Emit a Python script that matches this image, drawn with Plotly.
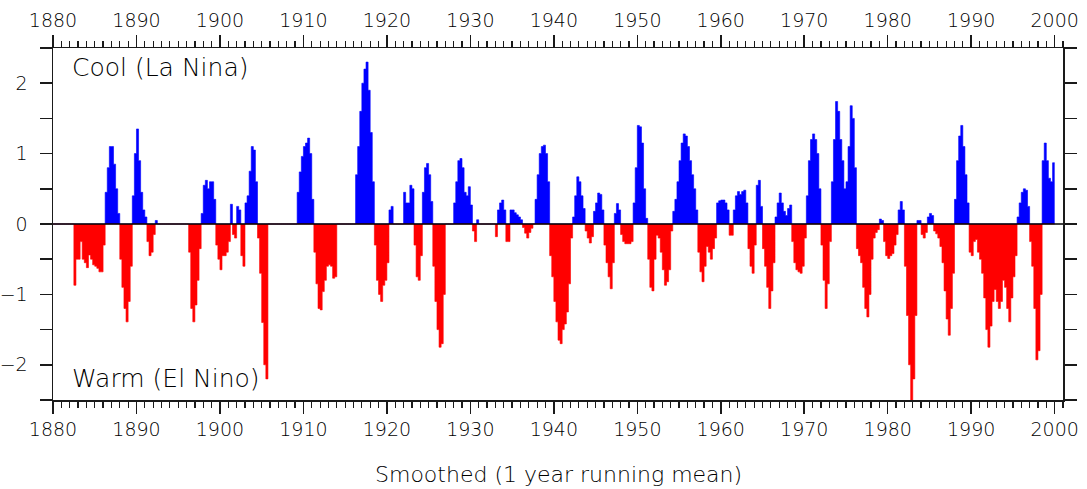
import numpy as np
import plotly.graph_objects as go

# Smoothed index, quarterly values (Q1..Q4 of each year)
soi_1880s = [0, 0, 0, 0,  0, 0, 0, 0,  0, 0, -0.87, -0.5,  -0.5, -0.25, -0.5, -0.55,
             -0.62, -0.44, -0.5, -0.58,  -0.6, -0.63, -0.68, -0.68,  -0.3, 0.45, 0.8, 1.1,
             1.1, 0.85, 0.5, 0.15,  -0.5, -0.9, -1.2, -1.39,  -1.1, -0.6, 0.4, 1.0]
soi_1890s = [1.35, 0.9, 0.45, 0.2,  0.1, -0.25, -0.45, -0.4,  -0.15, 0.05, 0, 0,  0, 0, 0, 0,
             0, 0, 0, 0,  0, 0, 0, 0,  0, -0.4, -1.2, -1.39,  -1.15, -0.8, -0.35, 0.15,
             0.55, 0.62, 0.5, 0.6,  0.6, 0.35, -0.3, -0.5]
soi_1900s = [-0.65, -0.45, -0.45, -0.4,  -0.25, 0.28, -0.15, -0.2,  0.25, 0.2, -0.45, -0.6,
             0.3, 0.4, 0.75, 1.1,  1.05, 0.6, -0.2, -0.7,  -1.4, -2.0, -2.2, 0,
             0, 0, 0, 0,  0, 0, 0, 0,  0, 0, 0, 0,  0, 0.45, 0.74, 0.96]
soi_1910s = [1.1, 1.15, 1.22, 1.0,  0.35, -0.4, -0.85, -1.2,  -1.22, -0.96, -0.8, -0.6,
             -0.58, -0.6, -0.77, -0.75,  0, 0, 0, 0,  0, 0, 0, 0,  0, 0.7, 1.1, 1.6,
             2.0, 2.2, 2.3, 1.9,  1.3, 0.6, -0.3, -0.8,  -1.0, -1.1, -0.87, -0.8]
soi_1920s = [-0.55, 0.2, 0.25, 0,  0, 0, 0, 0,  0.45, 0.3, 0.3, 0.55,  0.5, -0.3, -0.75, -0.8,
             -0.45, 0.45, 0.8, 0.86,  0.7, 0.32, -0.6, -1.1,  -1.5, -1.75, -1.7, -1.0,
             0, 0, 0, 0,  0.3, 0.6, 0.9, 0.93,  0.8, 0.45, 0.4, 0.53]
soi_1930s = [0.27, -0.1, -0.25, 0.06,  0, 0, 0, 0,  0, 0, 0, 0,  -0.18, 0.2, 0.3, 0.34,
             0.2, -0.25, -0.25, 0.2,  0.2, 0.16, 0.13, 0.1,  0.06, -0.05, -0.13, -0.2,
             -0.12, -0.06, 0, 0.35,  0.7, 1.0, 1.1, 1.12,  1.0, 0.6, -0.45, -0.75]
soi_1940s = [-1.1, -1.39, -1.65, -1.7,  -1.5, -1.42, -1.25, -0.85,  -0.2, 0.1, 0.4, 0.67,
             0.6, 0.4, 0.22, -0.1,  -0.2, -0.27, -0.18, 0.18,  0.3, 0.44, 0.42, 0.2,
             -0.3, -0.55, -0.75, -0.92,  -0.55, 0.15, 0.29, 0.2,  -0.15, -0.25, -0.28, -0.28,
             -0.28, -0.25, 0.3, 0.8]
soi_1950s = [1.4, 1.38, 1.15, 0.5,  0.08, -0.5, -0.9, -0.95,  -0.5, -0.16, -0.2, -0.4,
             -0.65, -0.87, -0.82, -0.65,  -0.1, 0.18, 0.35, 0.6,  0.9, 1.15, 1.28, 1.25,
             1.1, 0.9, 0.7, 0.5,  0.2, -0.4, -0.68, -0.82,  -0.6, -0.32, -0.4, -0.5,
             -0.35, -0.2, 0.3, 0.33]
soi_1960s = [0.34, 0.34, 0.3, 0.2,  -0.16, -0.16, 0.2, 0.4,  0.46, 0.42, 0.46, 0.48,
             0.3, -0.35, -0.6, -0.7,  -0.3, 0.55, 0.62, 0.25,  -0.35, -0.6, -0.9, -1.2,
             -0.95, -0.55, 0.1, 0.3,  0.44, 0.3, 0.18, 0.12,  0.22, 0.27, -0.25, -0.55,
             -0.65, -0.68, -0.7, -0.6]
soi_1970s = [-0.2, 0.4, 0.9, 1.2,  1.28, 1.2, 1.0, 0.5,  -0.3, -0.8, -1.2, -0.85,
             -0.25, 0.6, 1.2, 1.74,  1.6, 1.2, 0.9, 0.5,  0.6, 1.1, 1.68, 1.5,
             0.8, -0.35, -0.45, -0.55,  -0.9, -1.2, -1.32, -1.0,  -0.5, -0.2, -0.12, -0.08,
             0.07, 0.05, -0.25, -0.45]
soi_1980s = [-0.49, -0.45, -0.42, -0.3,  -0.15, 0.2, 0.32, 0.2,  -0.6, -1.3, -2.0, -2.55,
             -2.2, -1.3, 0.05, 0.05,  -0.15, -0.2, -0.12, 0.1,  0.15, 0.12, -0.1, -0.14,
             -0.2, -0.32, -0.55, -0.95,  -1.35, -1.58, -1.2, -0.7,  0.35, 0.9, 1.25, 1.4,
             1.1, 0.7, 0.3, -0.4]
soi_1990s = [-0.45, -0.25, -0.22, -0.4,  -0.5, -0.7, -1.05, -1.5,  -1.75, -1.45, -1.1, -0.93,
             -1.1, -1.2, -1.1, -0.8,  -0.9, -1.2, -1.39, -1.05,  -0.75, -0.45, 0.1, 0.3,
             0.45, 0.5, 0.48, 0.25,  -0.25, -0.6, -1.2, -1.93,  -1.8, -1.0, 0.9, 1.15,
             0.9, 0.65, 0.6, 0.87]

START_YEAR = 1880
STEP = 0.25
x_ticks_major = list(range(1880, 2001, 10))
y_tick_vals = [-2.5, -2, -1.5, -1, -0.5, 0, 0.5, 1, 1.5, 2, 2.5]
y_tick_text = ["", "\u22122", "", "\u22121", "", "0", "", "1", "", "2", ""]

values = np.concatenate([soi_1880s, soi_1890s, soi_1900s, soi_1910s, soi_1920s,
                         soi_1930s, soi_1940s, soi_1950s, soi_1960s, soi_1970s,
                         soi_1980s, soi_1990s]).astype(float)
t = START_YEAR + np.arange(len(values)) * STEP
x_step = np.append(t, t[-1] + STEP)
v_step = np.append(values, values[-1])
pos = np.where(v_step > 0, v_step, 0.0)
neg = np.where(v_step < 0, v_step, 0.0)

FONT = "DejaVu Sans"
INK = "#1a1a1a"
TXT = "#000000"
BLUE = "#0000FF"
RED = "#FF0000"

fig = go.Figure()
fig.add_trace(go.Scatter(x=x_step, y=pos, mode="lines",
                         line=dict(width=0.6, color=BLUE, shape="hv", simplify=False),
                         fill="tozeroy", fillcolor=BLUE, hoverinfo="skip", showlegend=False))
fig.add_trace(go.Scatter(x=x_step, y=neg, mode="lines",
                         line=dict(width=0.6, color=RED, shape="hv", simplify=False),
                         fill="tozeroy", fillcolor=RED, hoverinfo="skip", showlegend=False))
# invisible trace to activate the mirrored (top / right) axes
fig.add_trace(go.Scatter(x=[1880, 2001], y=[-2.5, 2.5], xaxis="x2", yaxis="y2", mode="markers",
                         marker=dict(opacity=0), hoverinfo="skip", showlegend=False))

tickfont = dict(family=FONT, size=19, color=TXT, weight=200)
xcommon = dict(range=[1880, 2001], tickmode="array", tickvals=x_ticks_major,
               ticks="outside", ticklen=12, tickwidth=1.5, tickcolor=INK,
               showline=True, linecolor=INK, linewidth=1.5, showgrid=False, zeroline=False,
               minor=dict(ticks="outside", ticklen=6, tickwidth=1.2, tickcolor=INK,
                          tickmode="linear", tick0=1880, dtick=1, showgrid=False),
               tickfont=tickfont, fixedrange=True, automargin=False)
ycommon = dict(range=[-2.5, 2.5], tickmode="array", tickvals=y_tick_vals, ticktext=y_tick_text,
               ticks="outside", ticklen=12, tickwidth=1.5, tickcolor=INK,
               showline=True, linecolor=INK, linewidth=1.5, showgrid=False, zeroline=False,
               tickfont=tickfont, fixedrange=True, automargin=False)

fig.update_layout(
    width=1087, height=489,
    margin=dict(l=53, r=24, t=48, b=89, autoexpand=False),
    paper_bgcolor="white", plot_bgcolor="white",
    xaxis=dict(**xcommon, side="bottom"),
    xaxis2=dict(**xcommon, side="top", overlaying="x", anchor="y"),
    yaxis=dict(**ycommon, side="left", ticklabelstandoff=8),
    yaxis2=dict(**ycommon, side="right", overlaying="y", anchor="x", showticklabels=False),
    showlegend=False,
    shapes=[dict(type="line", xref="paper", x0=0, x1=1, yref="y", y0=0, y1=0,
                 line=dict(color="black", width=1.5), layer="above")],
    annotations=[
        dict(text="Cool (La Nina)", xref="paper", x=0.0165, yref="y", y=2.22,
             xanchor="left", yanchor="middle", showarrow=False,
             font=dict(family=FONT, size=25, color=TXT, weight=200)),
        dict(text="Warm (El Nino)", xref="paper", x=0.0165, yref="y", y=-2.19,
             xanchor="left", yanchor="middle", showarrow=False,
             font=dict(family=FONT, size=25, color=TXT, weight=200)),
        dict(text="Smoothed (1 year running mean)", xref="paper", x=0.5, yref="paper", y=-0.213,
             xanchor="center", yanchor="middle", showarrow=False,
             font=dict(family=FONT, size=22, color=TXT, weight=200)),
    ],
)

fig.write_html("out.html", config={"displayModeBar": False, "staticPlot": True},
               post_script="document.body.style.margin='0';document.body.style.overflow='hidden';")
